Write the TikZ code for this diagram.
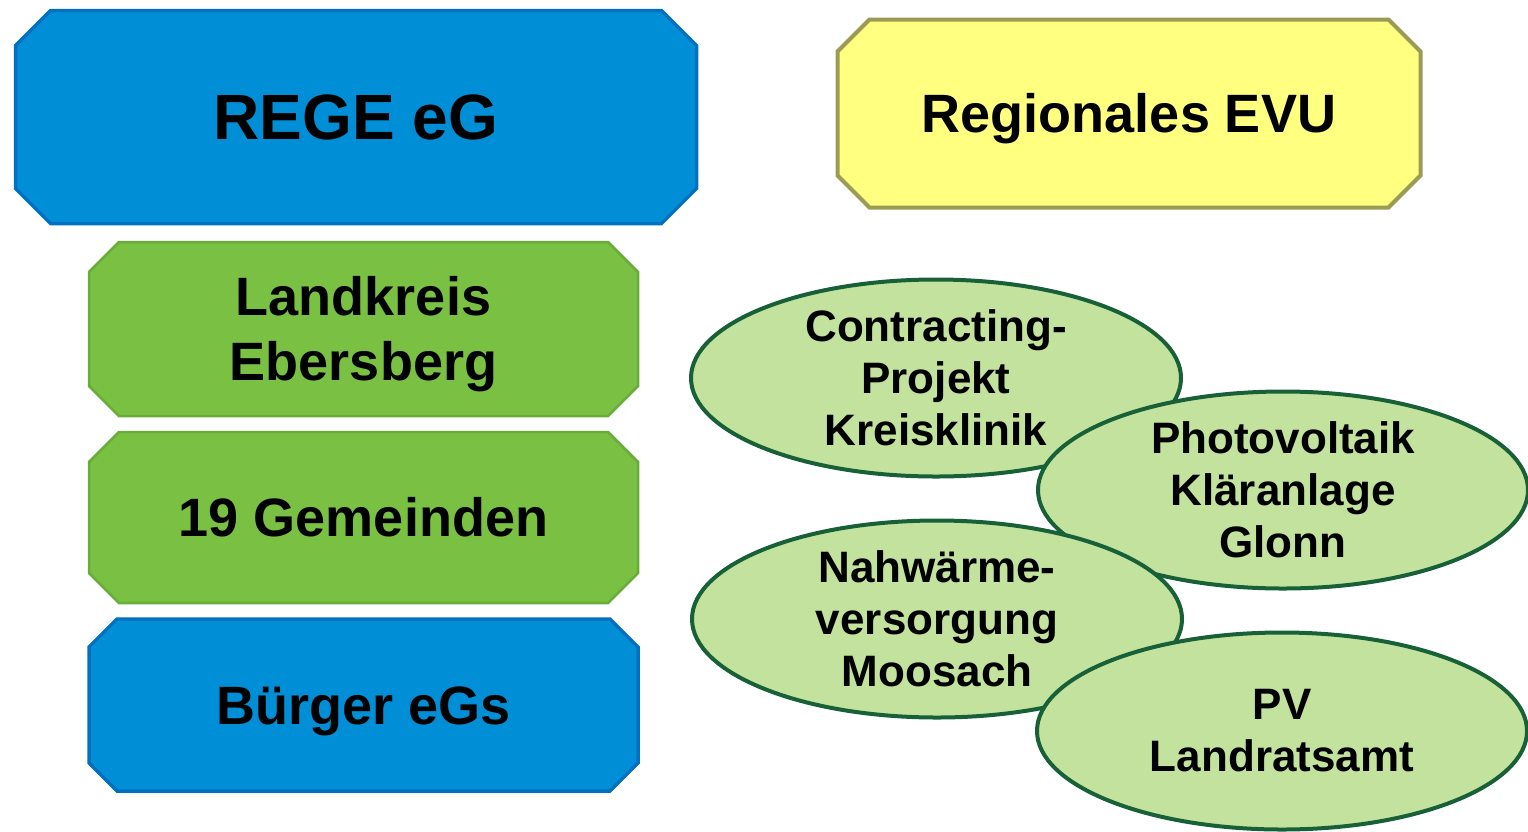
\documentclass[tikz,border=0pt]{standalone}
\usepackage{fontspec}
\setmainfont{Liberation Sans}
\usetikzlibrary{shapes.geometric,backgrounds}
\definecolor{boxblue}{RGB}{0,143,214}
\definecolor{boxblueline}{RGB}{0,112,192}
\definecolor{boxgreen}{RGB}{122,192,67}
\definecolor{boxgreenline}{RGB}{104,172,58}
\definecolor{boxyellow}{RGB}{255,255,128}
\definecolor{boxyellowline}{RGB}{155,155,85}
\definecolor{ellfill}{RGB}{195,226,157}
\definecolor{ellline}{RGB}{24,96,56}
\newcommand{\chamferpath}[3]{%
  \path[#3] ([xshift=#2]#1.north west) -- ([xshift=-#2]#1.north east) -- ([yshift=-#2]#1.north east)
    -- ([yshift=#2]#1.south east) -- ([xshift=-#2]#1.south east) -- ([xshift=#2]#1.south west)
    -- ([yshift=#2]#1.south west) -- ([yshift=-#2]#1.north west) -- cycle;}
\tikzset{
  chambox/.style={rectangle, inner sep=0pt, outer sep=0pt, align=center,
    text depth=0pt, text height=38.7pt,
    font=\bfseries\fontsize{54}{65}\selectfont},
  bluefill/.style={fill=boxblue, draw=boxblueline, line width=3.5pt},
  greenfill/.style={fill=boxgreen, draw=boxgreenline, line width=2.5pt},
  yellowfill/.style={fill=boxyellow, draw=boxyellowline, line width=4pt},
  proj/.style={ellipse, fill=ellfill, draw=ellline, line width=4pt, inner sep=0pt, outer sep=0pt,
    minimum width=490pt, minimum height=197pt, align=center,
    font=\bfseries\fontsize{44}{52}\selectfont}
}
\begin{document}
\begin{tikzpicture}[x=1pt,y=-1pt]
\useasboundingbox (0,0) rectangle (1528,831);
\node[chambox, minimum width=681pt, minimum height=213pt, text height=45.8pt,
  font=\bfseries\fontsize{64}{70}\selectfont] (rege) at (356,117) {REGE eG};
\node[chambox, minimum width=583pt, minimum height=188pt] (evu) at (1129,113.5) {Regionales EVU};
\node[chambox, minimum width=549pt, minimum height=174pt, text height=103.7pt] (lk) at (363.5,329) {Landkreis\\Ebersberg};
\node[chambox, minimum width=549pt, minimum height=171pt] (gem) at (363.5,517.5) {19 Gemeinden};
\node[chambox, minimum width=549pt, minimum height=172pt] (bg) at (363.5,705) {Bürger eGs};
\begin{scope}[on background layer]
  \chamferpath{rege}{35pt}{bluefill}
  \chamferpath{evu}{32pt}{yellowfill}
  \chamferpath{lk}{30pt}{greenfill}
  \chamferpath{gem}{30pt}{greenfill}
  \chamferpath{bg}{28pt}{bluefill}
\end{scope}
\node[proj] (kk) at (936,378) {Contracting-\\Projekt\\Kreisklinik};
\node[proj] (pvk) at (1283,490) {Photovoltaik\\Kläranlage\\Glonn};
\node[proj] (nw) at (937,619) {Nahwärme-\\versorgung\\Moosach};
\node[proj] (pvl) at (1282,731) {PV\\Landratsamt};
\end{tikzpicture}
\end{document}
